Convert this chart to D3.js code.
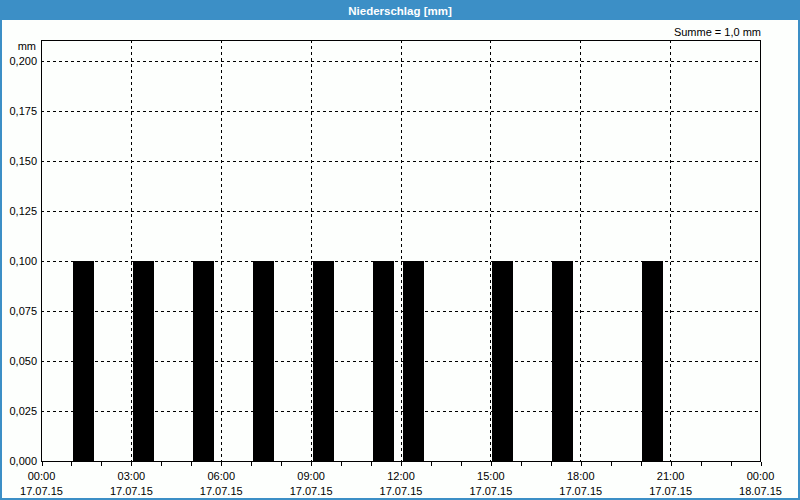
<!DOCTYPE html>
<html><head><meta charset="utf-8">
<script src="https://cdn.jsdelivr.net/npm/d3@7"></script>
<style>body{margin:0;background:#fff}svg{display:block}</style>
</head><body><svg id="c" width="800" height="500"></svg>
<script>
const title = "Niederschlag [mm]";
const unitLabel = "mm";
const sumLabel = "Summe = 1,0 mm";
// bar start hours on 17.07.15 and values (mm)
const barHours = [1, 3, 5, 7, 9, 11, 12, 15, 17, 20];
const barValues = [0.1, 0.1, 0.1, 0.1, 0.1, 0.1, 0.1, 0.1, 0.1, 0.1];
const yTicks = [0, 0.025, 0.05, 0.075, 0.1, 0.125, 0.15, 0.175, 0.2];
const xTickHours = [0, 3, 6, 9, 12, 15, 18, 21, 24];
const xTickTimes = ["00:00","03:00","06:00","09:00","12:00","15:00","18:00","21:00","00:00"];
const xTickDates = ["17.07.15","17.07.15","17.07.15","17.07.15","17.07.15","17.07.15","17.07.15","17.07.15","18.07.15"];

const svg = d3.select("#c");
const font = "Tahoma, 'DejaVu Sans', sans-serif";
const L = 41, R = 760, T = 40, B = 461;
const x = d3.scaleLinear().domain([0, 24]).range([L, R]);
const y = d3.scaleLinear().domain([0, 0.2]).range([B, 61]);

// window frame
svg.append("rect").attr("x",0).attr("y",0).attr("width",800).attr("height",500).attr("fill","#3c8fc6");
svg.append("rect").attr("x",2).attr("y",20).attr("width",796).attr("height",478).attr("fill","#fdfffd");
svg.append("text").attr("x",400).attr("y",14.5).attr("text-anchor","middle")
  .attr("fill","#fff").attr("font-family","'Liberation Sans', sans-serif").attr("font-size",11.5).attr("font-weight","bold").text(title);

// grid horizontal
const grid = svg.append("g").attr("stroke","#000").attr("stroke-width",1).attr("stroke-dasharray","3,3").attr("shape-rendering","crispEdges");
yTicks.filter(v=>v>0).forEach(v=>{
  grid.append("line").attr("x1",L).attr("x2",R).attr("y1",Math.round(y(v))+0.5).attr("y2",Math.round(y(v))+0.5);
});
xTickHours.filter(h=>h>0&&h<24).forEach(h=>{
  grid.append("line").attr("x1",Math.round(x(h))+0.5).attr("x2",Math.round(x(h))+0.5).attr("y1",T).attr("y2",B);
});

// bars
svg.append("g").selectAll("rect").data(barHours).join("rect")
  .attr("x",(h)=>Math.round(x(h+0.07)))
  .attr("width",(h)=>Math.round(x(h+0.77))-Math.round(x(h+0.07)))
  .attr("y",(h,i)=>Math.round(y(barValues[i])))
  .attr("height",(h,i)=>B-Math.round(y(barValues[i])))
  .attr("fill","#000");

// frame
svg.append("rect").attr("x",L+0.5).attr("y",T+0.5).attr("width",R-L).attr("height",B-T)
  .attr("fill","none").attr("stroke","#000").attr("stroke-width",1).attr("shape-rendering","crispEdges");

// x axis ticks (hourly)
const xAxis = d3.axisBottom(x).tickValues(d3.range(0,25,1)).tickSize(4).tickFormat("");
const gx = svg.append("g").attr("transform",`translate(0.5,${B+0.5})`).call(xAxis);
gx.select(".domain").remove();
gx.selectAll("line").attr("stroke","#000").attr("shape-rendering","crispEdges");

const tf = "'Liberation Sans', Arial, sans-serif";
const lab = svg.append("g").attr("font-family",tf).attr("font-size",11).attr("fill","#000").attr("text-anchor","middle");
xTickHours.forEach((h,i)=>{
  lab.append("text").attr("x",x(h)+0.5).attr("y",480).text(xTickTimes[i]);
  lab.append("text").attr("x",x(h)+0.5).attr("y",495).text(xTickDates[i]);
});

// y labels
const fmt = v => d3.format(".3f")(v).replace(".", ",");
const yl = svg.append("g").attr("font-family",tf).attr("font-size",11).attr("fill","#000").attr("text-anchor","end");
yTicks.forEach(v=>{
  yl.append("text").attr("x",37).attr("y",y(v)+4).text(fmt(v));
});
yl.append("text").attr("x",36).attr("y",50).text(unitLabel);
svg.append("text").attr("x",761).attr("y",36).attr("text-anchor","end").attr("font-family",tf).attr("font-size",11).attr("fill","#000").text(sumLabel);
</script></body></html>
